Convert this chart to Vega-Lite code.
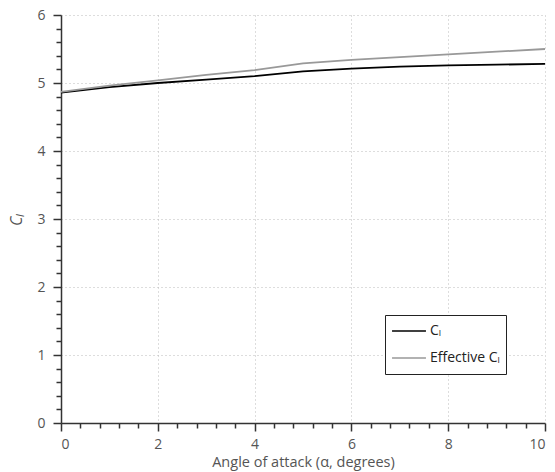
{
  "$schema": "https://vega.github.io/schema/vega-lite/v6.json",
  "width": 484,
  "height": 408,
  "autosize": "none",
  "padding": {"left": 61, "top": 15, "right": 10, "bottom": 49},
  "background": "white",
  "config": {
    "view": {"stroke": null},
    "font": "Open Sans",
    "axis": {"labelFont": "Open Sans", "titleFont": "Open Sans", "labelColor": "#555", "titleColor": "#555", "labelFontSize": 14, "titleFontSize": 14, "titleFontWeight": "normal", "domainColor": "#333", "tickColor": "#333", "domainWidth": 1.5, "tickWidth": 1.5}
  },
  "data": {"values": [
    {"a": 0, "s": "Cₗ", "v": 4.86}, {"a": 1, "s": "Cₗ", "v": 4.94}, {"a": 2, "s": "Cₗ", "v": 5.0}, {"a": 3, "s": "Cₗ", "v": 5.05}, {"a": 4, "s": "Cₗ", "v": 5.1}, {"a": 5, "s": "Cₗ", "v": 5.17}, {"a": 6, "s": "Cₗ", "v": 5.21}, {"a": 7, "s": "Cₗ", "v": 5.24}, {"a": 8, "s": "Cₗ", "v": 5.26}, {"a": 9, "s": "Cₗ", "v": 5.27}, {"a": 10, "s": "Cₗ", "v": 5.28},
    {"a": 0, "s": "Effective Cₗ", "v": 4.87}, {"a": 1, "s": "Effective Cₗ", "v": 4.96}, {"a": 2, "s": "Effective Cₗ", "v": 5.04}, {"a": 3, "s": "Effective Cₗ", "v": 5.12}, {"a": 4, "s": "Effective Cₗ", "v": 5.19}, {"a": 5, "s": "Effective Cₗ", "v": 5.29}, {"a": 6, "s": "Effective Cₗ", "v": 5.34}, {"a": 7, "s": "Effective Cₗ", "v": 5.38}, {"a": 8, "s": "Effective Cₗ", "v": 5.42}, {"a": 9, "s": "Effective Cₗ", "v": 5.46}, {"a": 10, "s": "Effective Cₗ", "v": 5.5}
  ]},
  "resolve": {"axis": {"x": "independent", "y": "independent"}},
  "layer": [
    {
      "mark": {"type": "line", "strokeWidth": 1.8, "opacity": 0},
      "encoding": {
        "x": {"field": "a", "type": "quantitative", "scale": {"domain": [0, 10], "nice": false},
              "axis": {"orient": "bottom", "values": [0.4,0.8,1.2,1.6,2.4,2.8,3.2,3.6,4.4,4.8,5.2,5.6,6.4,6.8,7.2,7.6,8.4,8.8,9.2,9.6], "labels": false, "domain": false, "grid": false, "tickSize": 5, "title": null}},
        "y": {"field": "v", "type": "quantitative", "scale": {"domain": [0, 6], "nice": false},
              "axis": {"orient": "left", "values": [0.2,0.4,0.6,0.8,1.2,1.4,1.6,1.8,2.2,2.4,2.6,2.8,3.2,3.4,3.6,3.8,4.2,4.4,4.6,4.8,5.2,5.4,5.6,5.8], "labels": false, "domain": false, "grid": false, "tickSize": 5, "title": null}},
        "detail": {"field": "s"}
      }
    },
    {
      "mark": {"type": "line", "strokeWidth": 1.8},
      "encoding": {
        "x": {"field": "a", "type": "quantitative", "scale": {"domain": [0, 10], "nice": false},
              "axis": {"orient": "bottom", "values": [0,2,4,6,8,10], "title": "Angle of attack (α, degrees)", "tickSize": 8, "labelPadding": 6, "titlePadding": 4, "titleFontSize": 14.5,
                       "grid": true, "gridColor": "#bbb", "gridDash": [1, 3], "gridWidth": 1}},
        "y": {"field": "v", "type": "quantitative", "scale": {"domain": [0, 6], "nice": false},
              "axis": {"orient": "left", "values": [0,1,2,3,4,5,6], "title": "Cₗ", "titleFontStyle": "italic", "titleFontSize": 16, "tickSize": 8, "labelPadding": 8, "titlePadding": 12,
                       "grid": true, "gridColor": "#bbb", "gridDash": [1, 3], "gridWidth": 1}},
        "color": {"field": "s", "type": "nominal", "scale": {"domain": ["Cₗ", "Effective Cₗ"], "range": ["#000000", "#999999"]},
                  "legend": {"title": null, "orient": "none", "legendX": 324, "legendY": 300, "symbolType": "stroke", "symbolSize": 1150, "symbolStrokeWidth": 1.6,
                             "clipHeight": 20, "rowPadding": 7,
                             "strokeColor": "#222", "fillColor": "white", "padding": 6, "labelFontSize": 14, "labelColor": "#222", "labelFont": "Open Sans", "labelOffset": 3}}
      }
    }
  ]
}
